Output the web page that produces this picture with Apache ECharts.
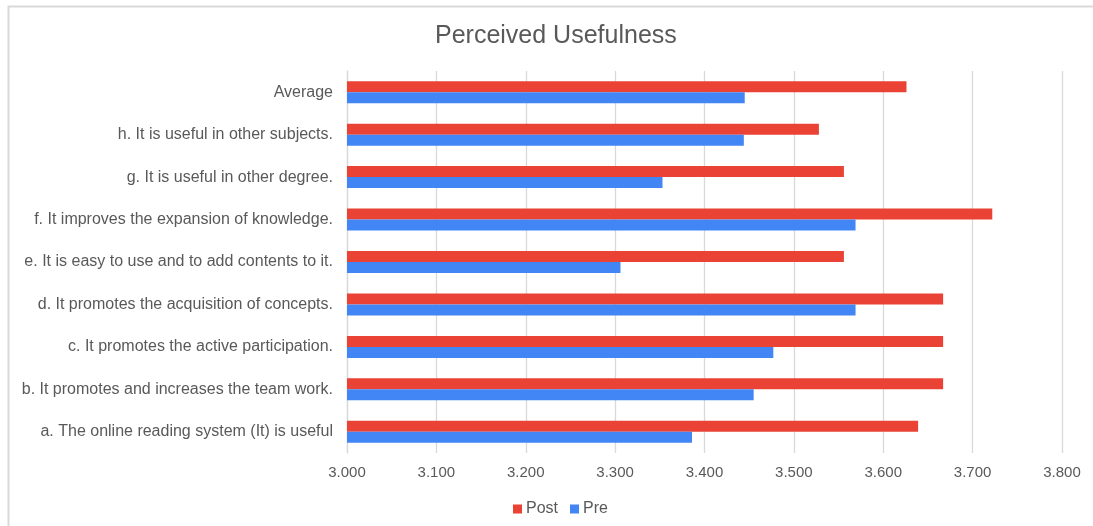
<!DOCTYPE html>
<html>
<head>
<meta charset="utf-8">
<script src="https://cdn.jsdelivr.net/npm/echarts@6/dist/echarts.min.js"></script>
<style>
  html, body { margin: 0; padding: 0; background: #fff; }
  #chart { width: 1093px; height: 526px; }
</style>
</head>
<body>
<div id="chart"></div>
<script>
// Survey items, listed bottom to top
const categories = [
  'a. The online reading system (It) is useful',
  'b. It promotes and increases the team work.',
  'c. It promotes the active participation.',
  'd. It promotes the acquisition of concepts.',
  'e. It is easy to use and to add contents to it.',
  'f. It improves the expansion of knowledge.',
  'g. It is useful in other degree.',
  'h. It is useful in other subjects.',
  'Average'
];

// Mean scores before and after
const preValues  = [3.386, 3.455, 3.477, 3.569, 3.306, 3.569, 3.353, 3.444, 3.445];
const postValues = [3.639, 3.667, 3.667, 3.667, 3.556, 3.722, 3.556, 3.528, 3.626];

const seriesNames = ['Post', 'Pre'];

const axisMin = 3.0;
const axisMax = 3.8;
const axisStep = 0.1;

const chart = echarts.init(document.getElementById('chart'), null, { renderer: 'canvas' });

const fontFamily = '"Liberation Sans", Arial, sans-serif';
const textColor = '#595959';

chart.setOption({
  animation: false,
  backgroundColor: '#ffffff',
  title: {
    text: 'Perceived Usefulness',
    left: 430,
    top: 19,
    textStyle: { fontFamily, fontSize: 25, fontWeight: 'normal', color: textColor }
  },
  legend: {
    data: seriesNames,
    left: 508,
    bottom: 4,
    itemWidth: 9,
    itemHeight: 9,
    itemGap: 12,
    icon: 'rect',
    textStyle: { fontFamily, fontSize: 16, color: textColor, padding: [0, 0, 0, -1] }
  },
  grid: { left: 347, right: 31, top: 71, bottom: 73, containLabel: false },
  xAxis: {
    type: 'value',
    min: axisMin,
    max: axisMax,
    interval: axisStep,
    axisLine: { show: false },
    axisTick: { show: false },
    splitLine: { show: true, lineStyle: { color: '#d9d9d9', width: 1.3 } },
    axisLabel: {
      fontFamily, fontSize: 15, color: textColor, margin: 12,
      formatter: v => v.toFixed(3)
    }
  },
  yAxis: {
    type: 'category',
    data: categories,
    axisLine: { show: true, lineStyle: { color: '#d9d9d9', width: 1.3 } },
    axisTick: { show: false },
    axisLabel: { fontFamily, fontSize: 16, color: textColor, margin: 14 }
  },
  series: [
    {
      name: 'Post',
      type: 'bar',
      data: postValues,
      barWidth: 11,
      barGap: '0%',
      itemStyle: { color: '#ea4335' }
    },
    {
      name: 'Pre',
      type: 'bar',
      data: preValues,
      barWidth: 11,
      barGap: '0%',
      itemStyle: { color: '#4285f4' }
    }
  ],
  graphic: [
    {
      type: 'rect',
      shape: { x: 8.5, y: 6.5, width: 1200, height: 700 },
      style: { fill: 'none', stroke: '#d9d9d9', lineWidth: 2 },
      silent: true
    }
  ]
});
</script>
</body>
</html>
